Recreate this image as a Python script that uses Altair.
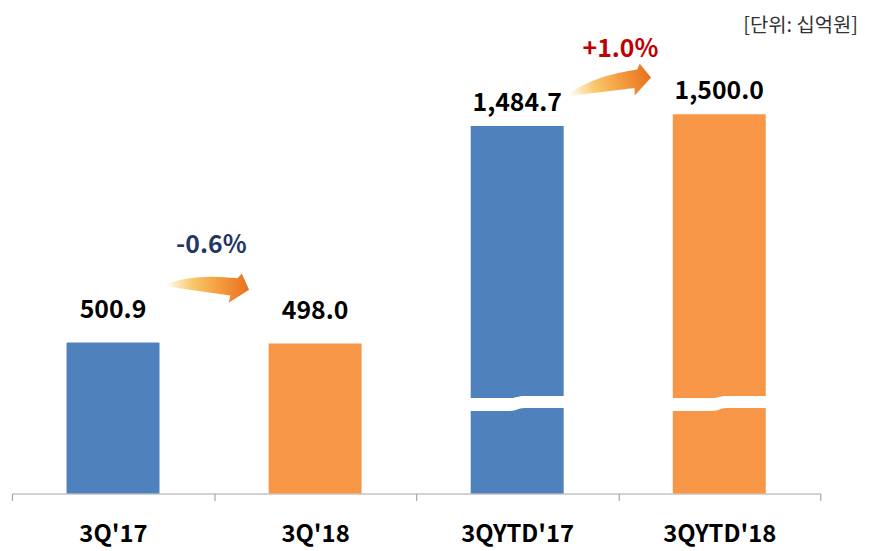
import altair as alt
import pandas as pd

# ---- data ----
categories = ["3Q'17", "3Q'18", "3QYTD'17", "3QYTD'18"]
values = [500.9, 498.0, 1484.7, 1500.0]
series = ["2017", "2018", "2017", "2018"]
groups = ["q", "q", "ytd", "ytd"]
series_colors = ["#4f81bd", "#f79646"]
unit_label = "[단위: 십억원]"
y_domain = [0, 510, 1400, 1520]      # broken value axis (piecewise scale)
break_value = 300                     # where the break symbol sits on the YTD bars

FONT = "Noto Sans CJK KR"
W, H = 814, 487

df = pd.DataFrame({"cat": categories, "value": values, "series": series, "group": groups})
df["label"] = df["value"].map(lambda v: f"{v:,.1f}")

ann = pd.DataFrame({
    "cat": [categories[0], categories[2]],
    "value": [values[0], values[2]],
    "group": ["q", "ytd"],
    "pct": [f"{(values[1]/values[0]-1)*100:+.1f}%", f"{(values[3]/values[2]-1)*100:+.1f}%"],
})
brk = pd.DataFrame({"cat": [categories[2], categories[3]], "value": [break_value, break_value]})
unit_df = pd.DataFrame({"t": [unit_label]})

x_enc = alt.X("cat:N", sort=categories,
              scale=alt.Scale(domain=categories, paddingInner=0, paddingOuter=0),
              axis=alt.Axis(title=None, labelAngle=0, tickBand="extent",
                            domainColor="#a6a6a6", tickColor="#a6a6a6", tickSize=7,
                            domainWidth=1.2, tickWidth=1.2,
                            labelFont=FONT, labelFontSize=24, labelFontWeight="bold",
                            labelColor="#000000", labelPadding=22))
y_enc = alt.Y("value:Q", scale=alt.Scale(domain=y_domain, range=[487, 332.2, 183.4, 89.3],
                                          nice=False, zero=False),
              axis=None)

base = alt.Chart(df).encode(x=x_enc, y=y_enc)

bars = base.mark_bar(width=alt.RelativeBandSize(0.46)).encode(
    color=alt.Color("series:N", scale=alt.Scale(domain=["2017", "2018"], range=series_colors),
                    legend=None))

lbl_q = base.transform_filter(alt.datum.group == "q").mark_text(
    font=FONT, fontSize=25, fontWeight="bold", color="#000000", baseline="middle", dy=-33
).encode(text="label:N")
lbl_y = base.transform_filter(alt.datum.group == "ytd").mark_text(
    font=FONT, fontSize=25, fontWeight="bold", color="#000000", baseline="middle", dy=-23
).encode(text="label:N")

break_shape = ("M -1 -0.1 L -0.15 -0.1 C 0 -0.1 0 -0.14 0.15 -0.14 L 1 -0.14 L 1 0.1 "
               "L 0.15 0.1 C 0 0.1 0 0.16 -0.15 0.16 L -1 0.16 Z")
breaks = alt.Chart(brk).mark_point(shape=break_shape, size=10000, filled=True,
                                   fill="#ffffff", strokeWidth=0, opacity=1).encode(
    x=x_enc, y=y_enc)

arrow_shape = ("M -1 -0.14 Q -0.3 -0.38 0.72 -0.26 L 0.82 -0.38 L 1 0.02 L 0.5 0.34 "
               "L 0.54 0.16 Q -0.2 0.06 -1 -0.06 Z")
grad = alt.LinearGradient(gradient="linear",
                          stops=[alt.GradientStop(color="#fffaf0", offset=0),
                                 alt.GradientStop(color="#f9c86c", offset=0.3),
                                 alt.GradientStop(color="#f39a3c", offset=0.65),
                                 alt.GradientStop(color="#e8701f", offset=1)],
                          x1=0, x2=1, y1=0, y2=0)

ann_base = alt.Chart(ann).encode(x=x_enc, y=y_enc)

arrow_q = ann_base.transform_filter(alt.datum.group == "q").mark_point(
    shape=arrow_shape, size=6724, filled=True, fill=grad, strokeWidth=0, opacity=1,
    xOffset=96, yOffset=-54)
arrow_y = ann_base.transform_filter(alt.datum.group == "ytd").mark_point(
    shape=arrow_shape, size=6724, filled=True, fill=grad, strokeWidth=0, opacity=1,
    angle=345, xOffset=95, yOffset=-39)

pct_q = ann_base.transform_filter(alt.datum.group == "q").mark_text(
    font=FONT, fontSize=25, fontWeight="bold", color="#1f3864", baseline="middle",
    dx=99, dy=-98).encode(text="pct:N")
pct_y = ann_base.transform_filter(alt.datum.group == "ytd").mark_text(
    font=FONT, fontSize=25, fontWeight="bold", color="#c00000", baseline="middle",
    dx=104, dy=-78).encode(text="pct:N")

unit = alt.Chart(unit_df).mark_text(font=FONT, fontSize=20, color="#333333",
                                    align="right", baseline="middle").encode(
    text="t:N", x=alt.value(852), y=alt.value(16))

chart = alt.layer(bars, breaks, lbl_q, lbl_y, arrow_q, arrow_y, pct_q, pct_y, unit).properties(
    width=W, height=H,
    autosize=alt.AutoSizeParams(type="none"),
    padding={"left": 4, "top": 0, "right": 45, "bottom": 54},
).configure_view(stroke=None)

chart.save("out.html", embed_options={"renderer": "svg", "actions": False})
